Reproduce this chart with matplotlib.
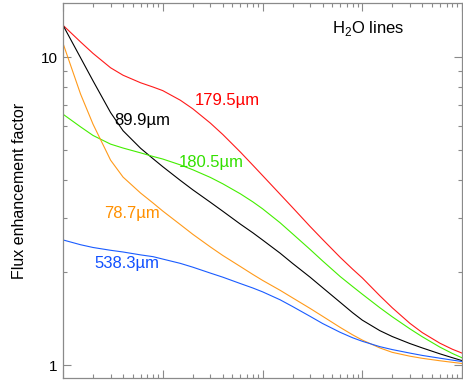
import matplotlib
matplotlib.use("Agg")
import matplotlib.pyplot as plt
import matplotlib.ticker as ticker

plt.rcParams['font.family'] = ['Liberation Sans', 'DejaVu Sans']
plt.rcParams['mathtext.fontset'] = 'custom'
plt.rcParams['mathtext.rm'] = 'Liberation Sans'

# sample positions along the (unlabelled) log x axis
x = [1, 1.5, 2, 3, 4, 6, 8, 10, 15, 20, 30, 40, 60, 80, 100, 150, 200, 300, 400, 600, 800,
     1000, 1500, 2000, 3000, 4000, 6000, 8000, 10000]

flux_179 = [12.70, 11.21, 10.29, 9.24, 8.74, 8.26, 8.00, 7.79, 7.25, 6.80, 6.11, 5.61, 4.92, 4.46,
            4.13, 3.59, 3.25, 2.82, 2.56, 2.24, 2.05, 1.92, 1.68, 1.535, 1.367, 1.275, 1.178, 1.126, 1.094]
flux_89 = [12.70, 9.96, 8.38, 6.61, 5.77, 5.06, 4.68, 4.41, 3.98, 3.71, 3.38, 3.16, 2.87, 2.69,
           2.55, 2.31, 2.14, 1.93, 1.785, 1.60, 1.48, 1.40, 1.294, 1.238, 1.175, 1.137, 1.088, 1.057, 1.034]
flux_180 = [6.53, 5.94, 5.57, 5.22, 5.07, 4.89, 4.76, 4.67, 4.47, 4.31, 4.07, 3.88, 3.60, 3.39,
            3.22, 2.90, 2.67, 2.375, 2.18, 1.94, 1.80, 1.70, 1.536, 1.435, 1.312, 1.236, 1.144, 1.091, 1.056]
flux_78 = [11.10, 7.59, 6.06, 4.63, 4.08, 3.62, 3.36, 3.165, 2.86, 2.66, 2.42, 2.27, 2.09, 1.97,
           1.885, 1.75, 1.654, 1.528, 1.441, 1.326, 1.254, 1.206, 1.137, 1.100, 1.069, 1.052, 1.033, 1.021, 1.012]
flux_538 = [2.55, 2.46, 2.41, 2.36, 2.33, 2.28, 2.25, 2.21, 2.14, 2.08, 1.99, 1.93, 1.84, 1.78,
            1.73, 1.63, 1.55, 1.44, 1.365, 1.278, 1.227, 1.195, 1.148, 1.123, 1.094, 1.075, 1.053, 1.038, 1.027]

labels = ["179.5\u00b5m", "89.9\u00b5m", "180.5\u00b5m", "78.7\u00b5m", "538.3\u00b5m"]
series = [flux_179, flux_89, flux_180, flux_78, flux_538]
colors = ["#ff1a1a", "#000000", "#44ee00", "#ff9a1a", "#1a5cff"]
text_colors = ["#ff0000", "#000000", "#33e000", "#ff9000", "#1050ff"]
# label anchor (axes fraction, baseline)
label_pos = [(0.331, 0.728), (0.128, 0.675), (0.291, 0.563), (0.103, 0.427), (0.078, 0.293)]

fig = plt.figure(figsize=(4.63, 3.82), dpi=100)
ax = fig.add_axes([63 / 463, 4 / 382, 399 / 463, 375 / 382])

for ys, c in zip(series, colors):
    ax.plot(x, ys, color=c, lw=0.8)

for lab, tc, (px, py) in zip(labels, text_colors, label_pos):
    ax.text(px, py, lab, color=tc, fontsize=12, ha='left', va='baseline', transform=ax.transAxes)

ax.text(0.674, 0.92, "H$_2$O lines", color='black', fontsize=12, ha='left', va='baseline',
        transform=ax.transAxes)

ax.set_xscale('log')
ax.set_yscale('log')
ax.set_xlim(1, 10000)
ax.set_ylim(0.908, 15.0)

ax.yaxis.set_major_locator(ticker.FixedLocator([1, 10]))
ax.yaxis.set_major_formatter(ticker.FuncFormatter(lambda v, _: f"{v:g}"))
ax.yaxis.set_minor_formatter(ticker.NullFormatter())
ax.xaxis.set_major_formatter(ticker.NullFormatter())
ax.xaxis.set_minor_formatter(ticker.NullFormatter())

grey = '#8a8a8a'
for sp in ax.spines.values():
    sp.set_color(grey)
    sp.set_linewidth(0.9)
ax.tick_params(which='both', direction='in', top=True, right=True, color=grey, width=0.8,
               labelsize=11, labelcolor='black')
ax.tick_params(which='major', length=6, pad=4)
ax.tick_params(which='minor', length=3)

ax.set_ylabel("Flux enhancement factor", fontsize=11.5, labelpad=10)

fig.savefig("out.png", dpi=100)
